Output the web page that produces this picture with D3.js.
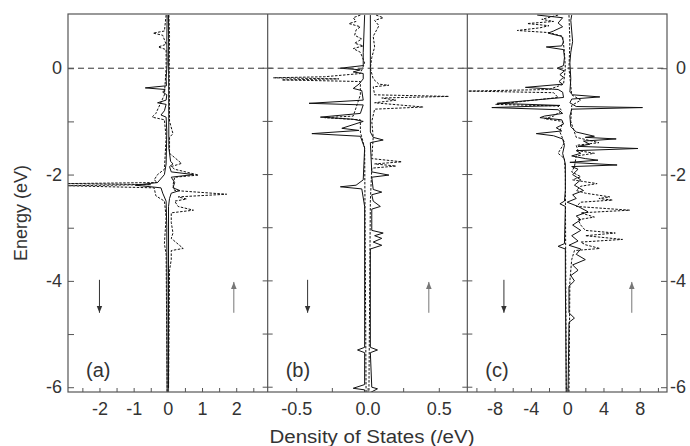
<!DOCTYPE html>
<html>
<head>
<meta charset="utf-8">
<script src="https://cdnjs.cloudflare.com/ajax/libs/d3/7.8.5/d3.min.js"></script>
<style>
body { margin: 0; background: #fff; }
text { font-family: "Liberation Sans", Arial, sans-serif; fill: #333; }
</style>
</head>
<body>
<div id="dos-chart"></div>
<script>
// energy axis, shared by the three panels (eV)
var energyDomain = [-6.09, 1.02]
var energyTicks = [-6, -5, -4, -3, -2, -1, 0]
var energyLabels = [-6, -4, -2, 0]

var panelNames = ['(a)', '(b)', '(c)']
var panelDomains = [[-2.92, 2.92], [-0.7, 0.7], [-11, 11]]
var panelTicks = [
  [-2.5, -2, -1.5, -1, -0.5, 0, 0.5, 1, 1.5, 2, 2.5],
  [-0.5, -0.25, 0, 0.25, 0.5],
  [-10, -8, -6, -4, -2, 0, 2, 4, 6, 8, 10]
]
var panelLabels = [[-2, -1, 0, 1, 2], [-0.5, 0, 0.5], [-8, -4, 0, 4, 8]]
var panelFormats = ['d', '.1f', 'd']
// spin arrows: [down, up] positions (DOS units)
var arrowX = [[-2.0, 1.93], [-0.42, 0.43], [-6.97, 7.12]]

// DOS curves as [energy, dos]; spin up > 0, spin down < 0
var aSolidDn = [[1.0,-0.02],[0.5,-0.03],[0.1,-0.02],[-0.2,-0.05],[-0.33,-0.04],[-0.37,-0.66],[-0.4,-0.08],[-0.45,-0.15],[-0.5,-0.03],[-0.6,-0.05],[-0.65,-0.3],[-0.68,-0.05],[-0.8,-0.1],[-0.88,-0.2],[-0.92,-0.05],[-1.2,-0.03],[-1.8,-0.05],[-2.0,-0.1],[-2.15,-0.3],[-2.2,-0.95],[-2.25,-0.2],[-2.35,-0.15],[-2.5,-0.05],[-3.0,-0.03],[-6.1,-0.02]]
var aSolidUp = [[1.0,0.02],[-1.5,0.03],[-1.75,0.08],[-1.8,0.15],[-1.85,0.05],[-1.95,0.1],[-2.0,0.75],[-2.05,0.1],[-2.15,0.2],[-2.25,0.15],[-2.3,0.35],[-2.35,0.1],[-2.45,0.05],[-2.6,0.02],[-6.1,0.02]]
var aDotDn = [[1.0,-0.05],[0.7,-0.1],[0.66,-0.43],[0.62,-0.15],[0.45,-0.05],[0.4,-0.28],[0.35,-0.05],[0.0,-0.05],[-0.5,-0.1],[-0.85,-0.35],[-0.92,-0.46],[-0.97,-0.1],[-1.3,-0.05],[-1.9,-0.1],[-2.0,-0.3],[-2.1,-0.4],[-2.15,-0.3],[-2.17,-2.95],[-2.19,-0.5],[-2.21,-2.95],[-2.25,-0.4],[-2.4,-0.35],[-2.5,-0.1],[-2.8,-0.05],[-3.3,-0.1],[-3.5,-0.05],[-6.1,-0.02]]
var aDotUp = [[1.0,0.03],[0.6,0.05],[0.0,0.04],[-1.0,0.05],[-1.23,0.15],[-1.3,0.05],[-1.6,0.05],[-1.79,0.4],[-1.85,0.1],[-1.9,0.2],[-2.01,0.9],[-2.05,0.2],[-2.2,0.15],[-2.3,0.2],[-2.37,1.72],[-2.42,0.3],[-2.46,0.55],[-2.5,0.2],[-2.6,0.3],[-2.67,0.75],[-2.72,0.1],[-2.9,0.1],[-3.1,0.15],[-3.2,0.1],[-3.39,0.45],[-3.43,0.1],[-3.6,0.1],[-3.8,0.05],[-6.1,0.02]]

var bSolidDn = [[1.0,-0.02],[0.3,-0.03],[0.05,-0.03],[0.0,-0.19],[-0.03,-0.05],[-0.07,-0.1],[-0.1,-0.03],[-0.2,-0.03],[-0.3,-0.06],[-0.38,-0.1],[-0.42,-0.04],[-0.6,-0.03],[-0.66,-0.41],[-0.69,-0.03],[-0.85,-0.05],[-0.92,-0.33],[-0.96,-0.1],[-1.0,-0.03],[-1.13,-0.18],[-1.17,-0.06],[-1.23,-0.39],[-1.28,-0.05],[-1.5,-0.02],[-2.1,-0.03],[-2.2,-0.08],[-2.23,-0.19],[-2.27,-0.04],[-2.6,-0.02],[-5.25,-0.02],[-5.3,-0.07],[-5.35,-0.02],[-5.95,-0.02],[-6.02,-0.1],[-6.05,-0.02],[-6.1,-0.02]]
var bSolidUp = [[1.0,0.02],[-1.2,0.02],[-1.3,0.04],[-1.35,0.11],[-1.4,0.02],[-1.95,0.03],[-2.01,0.15],[-2.05,0.03],[-2.28,0.04],[-2.33,0.1],[-2.38,0.03],[-2.5,0.04],[-2.6,0.09],[-2.65,0.03],[-3.05,0.03],[-3.1,0.11],[-3.15,0.05],[-3.2,0.1],[-3.27,0.04],[-3.33,0.1],[-3.4,0.02],[-5.25,0.02],[-5.3,0.07],[-5.35,0.02],[-6.0,0.03],[-6.03,0.07],[-6.1,0.02]]
var bDotDn = [[1.0,-0.05],[0.95,-0.1],[0.88,-0.08],[0.84,-0.13],[0.78,-0.05],[0.72,-0.08],[0.62,-0.09],[0.55,-0.04],[0.47,-0.09],[0.42,-0.03],[0.37,-0.1],[0.3,-0.05],[0.1,-0.02],[-0.1,-0.05],[-0.16,-0.3],[-0.18,-0.66],[-0.2,-0.2],[-0.22,-0.6],[-0.25,-0.05],[-0.5,-0.05],[-0.9,-0.1],[-0.93,-0.3],[-0.97,-0.05],[-1.2,-0.05],[-1.5,-0.02],[-6.1,-0.01]]
var bDotUp = [[1.0,0.06],[0.95,0.11],[0.9,0.05],[0.8,0.08],[0.6,0.04],[0.4,0.05],[0.2,0.03],[0.0,0.02],[-0.2,0.04],[-0.3,0.08],[-0.32,0.15],[-0.35,0.04],[-0.5,0.05],[-0.53,0.57],[-0.56,0.1],[-0.6,0.2],[-0.65,0.05],[-0.73,0.39],[-0.77,0.05],[-1.0,0.03],[-1.3,0.04],[-1.7,0.03],[-1.76,0.24],[-1.8,0.05],[-1.84,0.2],[-1.88,0.03],[-2.5,0.02],[-6.1,0.01]]

var cSolidDn = [[1.0,-3.3],[0.95,-0.5],[0.85,-1.0],[0.78,-0.5],[0.7,-1.5],[0.66,-2.1],[0.6,-0.6],[0.5,-0.4],[0.42,-0.6],[0.4,-2.3],[0.35,-0.4],[0.2,-0.3],[0.05,-0.4],[0.0,-1.1],[-0.05,-0.3],[-0.12,-0.8],[-0.17,-0.4],[-0.25,-0.9],[-0.3,-0.5],[-0.36,-4.6],[-0.4,-1.0],[-0.45,-0.5],[-0.55,-0.4],[-0.66,-7.7],[-0.7,-0.8],[-0.74,-8.3],[-0.78,-1.0],[-0.85,-0.5],[-0.9,-2.5],[-0.93,-3.0],[-0.97,-0.6],[-1.05,-0.4],[-1.12,-1.2],[-1.18,-0.6],[-1.23,-3.4],[-1.27,-1.5],[-1.33,-0.5],[-1.45,-0.3],[-1.6,-0.5],[-1.8,-0.2],[-2.3,-0.2],[-2.5,-0.3],[-2.55,-0.8],[-2.6,-0.2],[-3.3,-0.3],[-3.35,-1.0],[-3.4,-0.2],[-4.0,-0.2],[-6.1,-0.1]]
var cSolidUp = [[1.0,0.5],[0.9,0.4],[0.7,0.5],[0.5,0.6],[0.3,0.4],[0.1,0.3],[-0.2,0.4],[-0.45,0.3],[-0.5,0.6],[-0.54,3.6],[-0.58,0.5],[-0.65,0.3],[-0.72,1.0],[-0.74,8.3],[-0.77,0.5],[-0.9,0.3],[-1.1,0.4],[-1.2,1.0],[-1.28,3.0],[-1.3,2.0],[-1.33,5.4],[-1.37,1.8],[-1.43,2.5],[-1.47,1.2],[-1.51,7.8],[-1.55,1.0],[-1.6,1.5],[-1.65,0.5],[-1.7,2.0],[-1.73,3.4],[-1.77,0.3],[-1.82,5.5],[-1.85,0.5],[-1.9,1.2],[-2.0,0.6],[-2.1,1.5],[-2.2,0.8],[-2.3,1.8],[-2.38,0.6],[-2.45,1.0],[-2.52,0.0],[-2.6,1.2],[-2.7,2.3],[-2.78,1.0],[-2.85,1.5],[-2.95,0.6],[-3.05,1.5],[-3.15,0.5],[-3.25,1.2],[-3.33,0.2],[-3.4,1.5],[-3.5,1.0],[-3.6,2.0],[-3.7,0.6],[-3.8,1.2],[-3.9,0.4],[-4.0,0.8],[-4.1,0.2],[-4.6,0.2],[-4.7,0.8],[-4.78,0.2],[-6.1,0.1]]
var cDotDn = [[1.0,-1.0],[0.92,-2.8],[0.88,-1.5],[0.84,-4.4],[0.8,-2.0],[0.76,-3.0],[0.71,-5.5],[0.67,-2.0],[0.6,-0.5],[0.3,-0.3],[0.0,-0.2],[-0.3,-0.4],[-0.4,-2.0],[-0.43,-10.9],[-0.46,-1.5],[-0.55,-1.0],[-0.68,-7.9],[-0.71,-1.0],[-0.8,-0.6],[-0.9,-1.5],[-0.95,-2.5],[-1.0,-0.5],[-1.2,-0.8],[-1.4,-0.3],[-1.6,-1.0],[-1.7,-0.3],[-2.0,-0.2],[-6.1,-0.1]]
var cDotUp = [[1.0,0.2],[0.5,0.3],[0.0,0.2],[-0.5,0.5],[-0.6,1.5],[-0.7,0.5],[-1.0,0.4],[-1.3,1.0],[-1.4,3.5],[-1.45,1.0],[-1.55,1.2],[-1.6,3.0],[-1.65,1.0],[-1.85,0.8],[-1.95,0.5],[-2.04,1.5],[-2.1,0.6],[-2.17,3.3],[-2.22,1.5],[-2.3,1.0],[-2.35,2.0],[-2.42,4.7],[-2.45,3.5],[-2.48,5.0],[-2.52,1.5],[-2.6,1.0],[-2.67,6.9],[-2.72,1.5],[-2.8,3.0],[-2.85,1.2],[-2.95,1.5],[-3.05,2.0],[-3.1,5.3],[-3.15,2.0],[-3.22,6.1],[-3.27,1.5],[-3.32,2.0],[-3.39,3.6],[-3.43,0.8],[-3.6,0.5],[-4.0,0.3],[-6.1,0.2]]

var panelSolid = [[aSolidDn, aSolidUp], [bSolidDn, bSolidUp], [cSolidDn, cSolidUp]]
var panelDotted = [[aDotDn, aDotUp], [bDotDn, bDotUp], [cDotDn, cDotUp]]

var margin = {top: 14, right: 23, bottom: 54, left: 68}
var width = 690 - margin.left - margin.right
var height = 446 - margin.top - margin.bottom
var panelW = width / 3

var locale = d3.formatLocale({decimal: '.', thousands: ',', grouping: [3], currency: ['', ''], minus: '-'})
var frameColor = '#555'

var svg = d3.select('#dos-chart').append('svg')
  .attr('width', 690)
  .attr('height', 446)
  .append('g')
    .attr('transform', 'translate(' + margin.left + ',' + margin.top + ')')

var y = d3.scaleLinear().domain(energyDomain).range([height, 0])

var defs = svg.append('defs')
defs.append('marker').attr('id', 'head-dark')
  .attr('viewBox', '0 0 10 10').attr('refX', 10).attr('refY', 5)
  .attr('markerWidth', 7).attr('markerHeight', 7).attr('markerUnits', 'userSpaceOnUse')
  .attr('orient', 'auto')
  .append('path').attr('d', 'M0,1L10,5L0,9Z').attr('fill', '#333')
defs.append('marker').attr('id', 'head-grey')
  .attr('viewBox', '0 0 10 10').attr('refX', 10).attr('refY', 5)
  .attr('markerWidth', 7).attr('markerHeight', 7).attr('markerUnits', 'userSpaceOnUse')
  .attr('orient', 'auto')
  .append('path').attr('d', 'M0,1L10,5L0,9Z').attr('fill', '#777')

panelNames.forEach((name, i) => {
  var g = svg.append('g').attr('transform', 'translate(' + (i * panelW) + ',0)')
  var x = d3.scaleLinear().domain(panelDomains[i]).range([0, panelW])

  defs.append('clipPath').attr('id', 'clip' + i)
    .append('rect').attr('width', panelW).attr('height', height)

  var line = d3.line().x(d => x(d[1])).y(d => y(d[0]))
  var plot = g.append('g').attr('clip-path', 'url(#clip' + i + ')')

  plot.selectAll('.dotted')
    .data(panelDotted[i])
    .enter().append('path')
      .attr('class', 'dotted')
      .attr('d', line)
      .attr('fill', 'none')
      .attr('stroke', '#111')
      .attr('stroke-width', 1)
      .attr('stroke-dasharray', '2.5,1.5')

  plot.selectAll('.solid')
    .data(panelSolid[i])
    .enter().append('path')
      .attr('class', 'solid')
      .attr('d', line)
      .attr('fill', 'none')
      .attr('stroke', '#111')
      .attr('stroke-width', 1)

  // Fermi level
  g.append('line')
    .attr('x1', 0).attr('x2', panelW)
    .attr('y1', y(0)).attr('y2', y(0))
    .attr('stroke', '#333').attr('stroke-dasharray', '6,4')

  var fmt = locale.format(panelFormats[i])
  var xAxis = d3.axisBottom(x)
    .tickValues(panelTicks[i])
    .tickSize(-4).tickSizeOuter(0).tickPadding(10)
    .tickFormat(d => panelLabels[i].indexOf(d) >= 0 ? fmt(d) : '')
  var ax = g.append('g').attr('transform', 'translate(0,' + height + ')').call(xAxis)
  ax.select('.domain').remove()
  ax.selectAll('line').attr('stroke', frameColor)
  ax.selectAll('text').attr('font-size', 18).attr('fill', '#333')

  g.append('text')
    .attr('x', 18).attr('y', height - 15)
    .attr('font-size', 20)
    .text(name)

  // spin direction arrows
  g.append('line')
    .attr('x1', x(arrowX[i][0])).attr('x2', x(arrowX[i][0]))
    .attr('y1', y(-3.98)).attr('y2', y(-4.6))
    .attr('stroke', '#333').attr('marker-end', 'url(#head-dark)')
  g.append('line')
    .attr('x1', x(arrowX[i][1])).attr('x2', x(arrowX[i][1]))
    .attr('y1', y(-4.6)).attr('y2', y(-4.02))
    .attr('stroke', '#777').attr('marker-end', 'url(#head-grey)')
})

// frame + dividers
svg.append('rect')
  .attr('width', width).attr('height', height)
  .attr('fill', 'none').attr('stroke', frameColor).attr('stroke-width', 1.2)

;[1, 2].forEach(k => {
  svg.append('line')
    .attr('x1', k * panelW).attr('x2', k * panelW)
    .attr('y1', 0).attr('y2', height)
    .attr('stroke', frameColor).attr('stroke-width', 1.2)
  svg.selectAll('.divtick' + k)
    .data(energyTicks)
    .enter().append('line')
      .attr('x1', k * panelW - 5).attr('x2', k * panelW + 5)
      .attr('y1', d => y(d)).attr('y2', d => y(d))
      .attr('stroke', frameColor)
})

var yFmt = locale.format('d')
var yLeft = svg.append('g').call(
  d3.axisLeft(y).tickValues(energyTicks).tickSize(-6).tickSizeOuter(0).tickPadding(6)
    .tickFormat(d => energyLabels.indexOf(d) >= 0 ? yFmt(d) : ''))
var yRight = svg.append('g').attr('transform', 'translate(' + width + ',0)').call(
  d3.axisRight(y).tickValues(energyTicks).tickSize(-6).tickSizeOuter(0).tickPadding(6)
    .tickFormat(d => energyLabels.indexOf(d) >= 0 ? yFmt(d) : ''))
;[yLeft, yRight].forEach(a => {
  a.select('.domain').remove()
  a.selectAll('line').attr('stroke', frameColor)
  a.selectAll('text').attr('font-size', 18).attr('fill', '#333')
})
yRight.selectAll('text').attr('text-anchor', 'end').attr('x', 19)

svg.append('text')
  .attr('transform', 'translate(' + (27 - margin.left) + ',' + 199 + ') rotate(-90)')
  .attr('text-anchor', 'middle')
  .attr('font-size', 18)
  .text('Energy (eV)')

svg.append('text')
  .attr('x', 304).attr('y', height + 51)
  .attr('text-anchor', 'middle')
  .attr('font-size', 18)
  .attr('textLength', 205)
  .attr('lengthAdjust', 'spacingAndGlyphs')
  .text('Density of States (/eV)')
</script>
</body>
</html>
